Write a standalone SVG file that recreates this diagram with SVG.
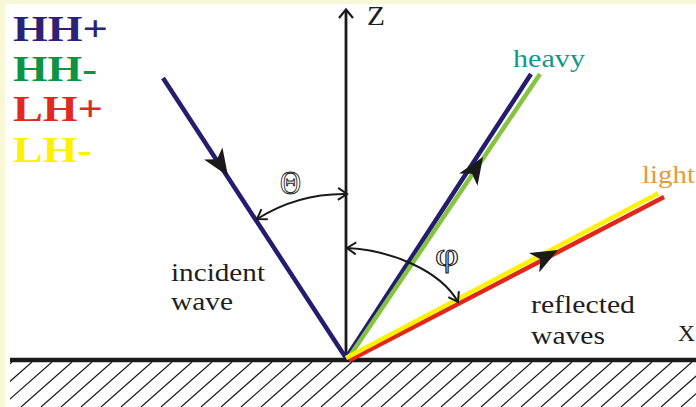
<svg xmlns="http://www.w3.org/2000/svg" width="696" height="407" viewBox="0 0 696 407">
<style>
.lbl{font-family:"Liberation Serif","Times New Roman",serif;font-size:24.5px;fill:#1e1e1e}
.key{font-family:"Liberation Serif","Times New Roman",serif;font-size:36px;font-weight:bold}
.greek{font-family:"Liberation Serif","DejaVu Serif",serif;fill:#ffffff;stroke:#1e1e1e;stroke-width:1}
.wave{fill:none;stroke-width:4.5;stroke-linecap:butt}
.arc{fill:none;stroke:#1a1a1a;stroke-width:2;marker-start:url(#chev);marker-end:url(#chev)}
.hatch{fill:none;stroke:#1a1a1a;stroke-width:1.2}
.head{fill:#1a1a1a}
</style>
<defs>
<marker id="chev" markerUnits="userSpaceOnUse" markerWidth="24" markerHeight="24" refX="0" refY="0" viewBox="-12 -12 24 24" orient="auto-start-reverse" overflow="visible">
<path d="M-9,-6 L0,0 L-9,6" fill="none" stroke="#1a1a1a" stroke-width="2"/>
</marker>
<path id="arrowhead" d="M0,0 L-27,-11 L-20,0 L-27,11 Z"/>
<clipPath id="groundClip"><rect x="10" y="362" width="686" height="45"/></clipPath>
</defs>

<g id="background">
<rect x="0" y="0" width="696" height="407" fill="#ffffff"/>
<rect x="0" y="0" width="696" height="4" fill="#f9f8d6"/>
<rect x="0" y="0" width="5" height="407" fill="#f9f8d6"/>
</g>

<g id="ground">
<path class="hatch" clip-path="url(#groundClip)" d="M-39 407L12 362M-19 407L32 362M1 407L52 362M21 407L72 362M41 407L92 362M61 407L112 362M81 407L132 362M101 407L152 362M121 407L172 362M141 407L192 362M161 407L212 362M181 407L232 362M201 407L252 362M221 407L272 362M241 407L292 362M261 407L312 362M281 407L332 362M301 407L352 362M321 407L372 362M341 407L392 362M361 407L412 362M381 407L432 362M401 407L452 362M421 407L472 362M441 407L492 362M461 407L512 362M481 407L532 362M501 407L552 362M521 407L572 362M541 407L592 362M561 407L612 362M581 407L632 362M601 407L652 362M621 407L672 362M641 407L692 362M661 407L712 362M681 407L732 362"/>
<line x1="10" y1="360" x2="696" y2="360" stroke="#1a1a1a" stroke-width="4.5"/>
</g>

<g id="z-axis">
<line x1="346" y1="358" x2="346" y2="10" stroke="#1a1a1a" stroke-width="2.8"/>
<path d="M339,18 L346,9.5 L353,18" fill="none" stroke="#1a1a1a" stroke-width="2.2"/>
<text class="lbl" x="367" y="25" style="font-size:27.5px" textLength="18" lengthAdjust="spacingAndGlyphs">Z</text>
</g>
<text id="x-axis-label" class="lbl" x="678" y="341" style="font-size:23px" textLength="17" lengthAdjust="spacingAndGlyphs">X</text>

<g id="incident">
<line class="wave" x1="163" y1="78" x2="346" y2="358" stroke="#241c6e"/>
<use href="#arrowhead" class="head" transform="translate(228,176) rotate(56.8)"/>
<text class="lbl" x="171" y="281" textLength="94" lengthAdjust="spacingAndGlyphs">incident</text>
<text class="lbl" x="171" y="310" textLength="62" lengthAdjust="spacingAndGlyphs">wave</text>
</g>

<g id="heavy">
<line class="wave" x1="346" y1="358" x2="531" y2="74" stroke="#241c6e"/>
<line class="wave" x1="348.5" y1="358" x2="540" y2="74" stroke="#86c440"/>
<use href="#arrowhead" class="head" transform="translate(483,157) rotate(-56.9)"/>
<text class="lbl" x="513" y="67" style="font-size:25px;fill:#11988a" textLength="72" lengthAdjust="spacingAndGlyphs">heavy</text>
</g>

<g id="light">
<line class="wave" x1="349" y1="360.5" x2="664" y2="197" stroke="#e2261c"/>
<line class="wave" x1="346" y1="358" x2="658" y2="193.5" stroke="#fff200"/>
<use href="#arrowhead" class="head" transform="translate(558,250) rotate(-27.9)"/>
<text class="lbl" x="642" y="183" style="font-size:25px;fill:#e99a33" textLength="53" lengthAdjust="spacingAndGlyphs">light</text>
</g>

<g id="reflected-label">
<text class="lbl" x="531" y="313" textLength="104" lengthAdjust="spacingAndGlyphs">reflected</text>
<text class="lbl" x="531" y="344" textLength="74" lengthAdjust="spacingAndGlyphs">waves</text>
</g>

<g id="angles">
<path class="arc" d="M257,219 A164,164 0 0 1 347,194"/>
<text class="greek" x="280" y="193.5" style="font-size:34px" textLength="21" lengthAdjust="spacingAndGlyphs">Θ</text>
<path class="arc" d="M347,248 C390,250 440,270 458,302"/>
<text class="greek" x="435" y="266" style="font-size:33px" textLength="24" lengthAdjust="spacingAndGlyphs">φ</text>
</g>

<g id="legend">
<text class="key" x="13" y="41" fill="#2b2277" textLength="95" lengthAdjust="spacingAndGlyphs">HH+</text>
<text class="key" x="13" y="81" fill="#0b9444" textLength="84" lengthAdjust="spacingAndGlyphs">HH-</text>
<text class="key" x="13" y="121" fill="#e02a20" textLength="90" lengthAdjust="spacingAndGlyphs">LH+</text>
<text class="key" x="13" y="162" fill="#fff200" textLength="79" lengthAdjust="spacingAndGlyphs">LH-</text>
</g>
</svg>
